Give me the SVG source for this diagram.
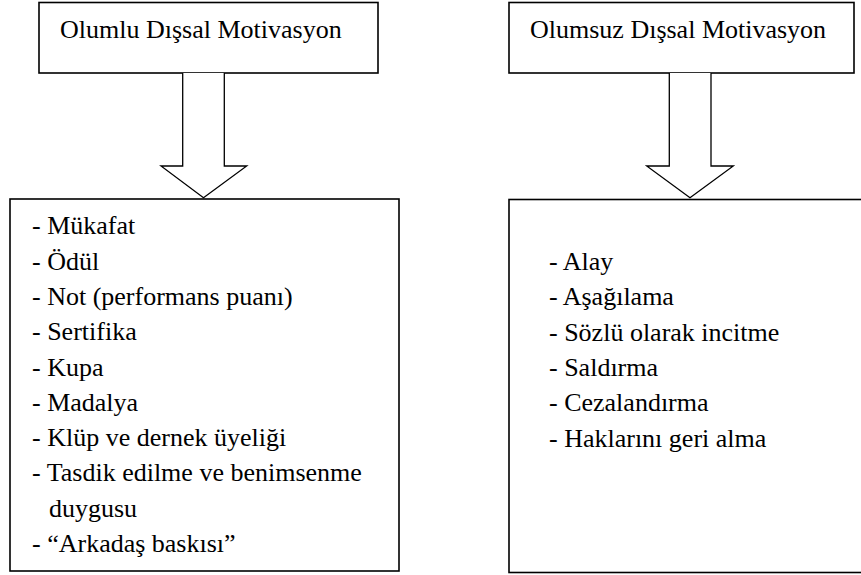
<svg xmlns="http://www.w3.org/2000/svg" width="861" height="575" viewBox="0 0 861 575">
<style>
.box{fill:#fff;stroke:#000;stroke-width:1.6}
.arr{fill:#fff;stroke:#000;stroke-width:1.3;stroke-linejoin:miter}
</style>
<rect width="861" height="575" fill="#fff"/>
<g id="top-left" font-family="Liberation Serif, serif" font-size="26" fill="#000">
<rect class="box" x="39" y="2.5" width="339" height="70.5"/>
<text x="60" y="38" font-family="Liberation Serif">Olumlu Dışsal Motivasyon</text>
</g>
<g id="top-right" font-family="Liberation Serif, serif" font-size="26" fill="#000">
<rect class="box" x="509" y="2.5" width="345" height="70.5"/>
<text x="530" y="38" font-family="Liberation Serif">Olumsuz Dışsal Motivasyon</text>
</g>
<g id="connectors">
<path class="arr" d="M182.7,73 V166 H161 L203.5,197.7 L246.7,166 H224.3 V73"/>
<path class="arr" d="M669.3,73 V166 H646.7 L690,197.7 L733.3,166 H711 V73"/>
</g>
<g id="bottom-left" font-family="Liberation Serif, serif" font-size="26" fill="#000">
<rect class="box" x="10" y="199" width="389" height="372"/>
<text x="32" y="234.3" font-family="Liberation Serif">- Mükafat</text>
<text x="32" y="269.6" font-family="Liberation Serif">- Ödül</text>
<text x="32" y="304.9" font-family="Liberation Serif">- Not (performans puanı)</text>
<text x="32" y="340.2" font-family="Liberation Serif">- Sertifika</text>
<text x="32" y="375.5" font-family="Liberation Serif">- Kupa</text>
<text x="32" y="410.8" font-family="Liberation Serif">- Madalya</text>
<text x="32" y="446.1" font-family="Liberation Serif">- Klüp ve dernek üyeliği</text>
<text x="32" y="481.4" font-family="Liberation Serif">- Tasdik edilme ve benimsenme</text>
<text x="49" y="516.7" font-family="Liberation Serif">duygusu</text>
<text x="32" y="552" font-family="Liberation Serif">- “Arkadaş baskısı”</text>
</g>
<g id="bottom-right" font-family="Liberation Serif, serif" font-size="26" fill="#000">
<rect class="box" x="509" y="199.5" width="360" height="373"/>
<text x="549" y="270" font-family="Liberation Serif">- Alay</text>
<text x="549" y="305.3" font-family="Liberation Serif">- Aşağılama</text>
<text x="549" y="340.6" font-family="Liberation Serif">- Sözlü olarak incitme</text>
<text x="549" y="375.9" font-family="Liberation Serif">- Saldırma</text>
<text x="549" y="411.2" font-family="Liberation Serif">- Cezalandırma</text>
<text x="549" y="446.5" font-family="Liberation Serif">- Haklarını geri alma</text>
</g>
</svg>
